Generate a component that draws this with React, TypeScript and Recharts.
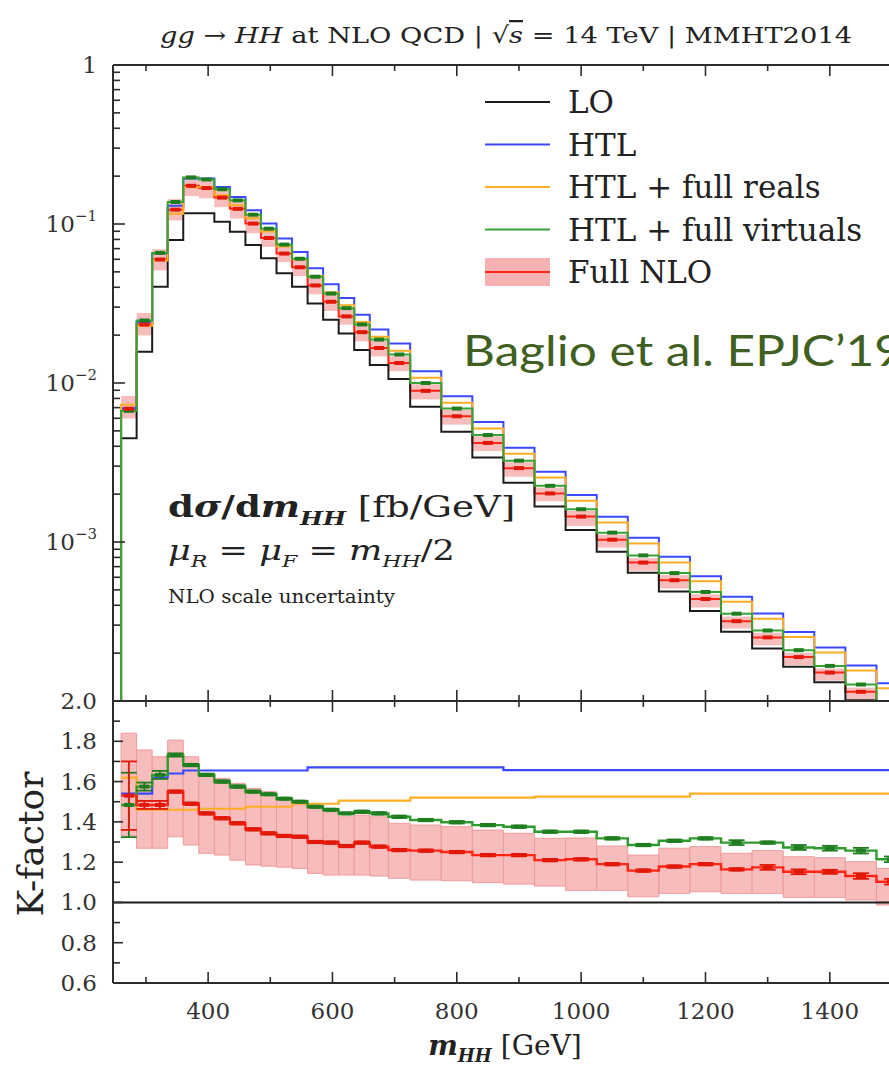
import {
  ComposedChart,
  Line,
  Scatter,
  ErrorBar,
  XAxis,
  YAxis,
  ReferenceArea,
  ReferenceLine,
} from 'recharts'

// m_HH bin edges [GeV]; 25 GeV bins at low mass, 50 GeV bins above 725
const binEdges = [
  260, 285, 310, 335, 360, 385, 410, 435, 460, 485, 510, 535, 560, 585, 610, 635, 660, 690, 725,
  775, 825, 875, 925, 975, 1025, 1075, 1125, 1175, 1225, 1275, 1325, 1375, 1425, 1475, 1525,
]

// LO dsigma/dm_HH [fb/GeV]
const sigmaLO = [
  0.0045, 0.0157, 0.0403, 0.0794, 0.1167, 0.1167, 0.1034, 0.0894, 0.0738, 0.0608, 0.049, 0.0403,
  0.0316, 0.025, 0.0205, 0.0161, 0.013, 0.0106, 0.0071, 0.00494, 0.0034, 0.00236, 0.00167, 0.00119,
  0.000869, 0.000641, 0.000488, 0.000368, 0.000273, 0.000214, 0.000164, 0.000131, 0.000101, 0.000078,
]

// K-factors (ratio to LO)
const kHTL = [
  1.54, 1.54, 1.62, 1.64, 1.655, 1.655, 1.655, 1.655, 1.655, 1.655, 1.655, 1.655, 1.67, 1.67, 1.67,
  1.67, 1.67, 1.67, 1.67, 1.67, 1.67, 1.657, 1.657, 1.657, 1.657, 1.657, 1.657, 1.657, 1.657, 1.657,
  1.657, 1.657, 1.657, 1.657,
]
const kReals = [
  1.62, 1.46, 1.46, 1.46, 1.46, 1.465, 1.465, 1.465, 1.475, 1.475, 1.475, 1.49, 1.49, 1.49, 1.505,
  1.505, 1.505, 1.505, 1.52, 1.52, 1.52, 1.52, 1.525, 1.525, 1.525, 1.525, 1.525, 1.54, 1.54, 1.54,
  1.54, 1.54, 1.54, 1.54,
]
const kVirt = [
  1.484, 1.575, 1.633, 1.732, 1.682, 1.633, 1.6, 1.575, 1.55, 1.537, 1.515, 1.5, 1.475, 1.46, 1.442,
  1.45, 1.442, 1.425, 1.409, 1.398, 1.384, 1.376, 1.351, 1.351, 1.318, 1.285, 1.306, 1.318, 1.297,
  1.297, 1.273, 1.269, 1.257, 1.214,
]
const kNLO = [
  1.53, 1.484, 1.484, 1.55, 1.49, 1.442, 1.418, 1.393, 1.363, 1.343, 1.33, 1.326, 1.3, 1.297, 1.28,
  1.297, 1.277, 1.26, 1.257, 1.25, 1.235, 1.235, 1.21, 1.214, 1.19, 1.158, 1.178, 1.19, 1.164, 1.174,
  1.152, 1.152, 1.131, 1.103,
]
// NLO scale uncertainty band
const kNLOHigh = [
  1.84, 1.757, 1.723, 1.806, 1.723, 1.641, 1.616, 1.591, 1.566, 1.55, 1.51, 1.484, 1.467, 1.45, 1.425,
  1.433, 1.425, 1.393, 1.384, 1.376, 1.359, 1.343, 1.318, 1.32, 1.28, 1.235, 1.269, 1.277, 1.244,
  1.257, 1.227, 1.222, 1.202, 1.169,
]
const kNLOLow = [
  1.33, 1.269, 1.269, 1.326, 1.285, 1.244, 1.235, 1.21, 1.186, 1.18, 1.175, 1.169, 1.144, 1.136,
  1.136, 1.136, 1.131, 1.12, 1.111, 1.108, 1.098, 1.091, 1.081, 1.06, 1.06, 1.028, 1.045, 1.053,
  1.045, 1.045, 1.025, 1.025, 1.012, 0.987,
]
// numerical (MC) errors on the K-factors
const errVirt = [
  0.16, 0.02, 0.02, 0.008, 0.006, 0.006, 0.006, 0.006, 0.005, 0.005, 0.005, 0.005, 0.005, 0.005,
  0.005, 0.006, 0.006, 0.006, 0.006, 0.006, 0.006, 0.006, 0.006, 0.006, 0.006, 0.006, 0.006, 0.006,
  0.012, 0.006, 0.012, 0.012, 0.014, 0.014,
]
const errNLO = [
  0.17, 0.02, 0.02, 0.006, 0.006, 0.006, 0.006, 0.006, 0.006, 0.006, 0.006, 0.006, 0.006, 0.006,
  0.006, 0.006, 0.006, 0.006, 0.006, 0.006, 0.006, 0.006, 0.006, 0.006, 0.006, 0.006, 0.006, 0.006,
  0.006, 0.012, 0.012, 0.01, 0.014, 0.014,
]

const xTicks = [300, 400, 500, 600, 700, 800, 900, 1000, 1100, 1200, 1300, 1400, 1500]
const logTicks = [
  1e-4, 2e-4, 3e-4, 4e-4, 5e-4, 6e-4, 7e-4, 8e-4, 9e-4, 1e-3, 2e-3, 3e-3, 4e-3, 5e-3, 6e-3, 7e-3, 8e-3,
  9e-3, 0.01, 0.02, 0.03, 0.04, 0.05, 0.06, 0.07, 0.08, 0.09, 0.1, 0.2, 0.3, 0.4, 0.5, 0.6, 0.7, 0.8,
  0.9, 1,
]
const kTicks = [0.6, 0.7, 0.8, 0.9, 1.0, 1.1, 1.2, 1.3, 1.4, 1.5, 1.6, 1.7, 1.8, 1.9, 2.0]

const legendItems = [
  { name: 'LO', color: '#1c1c1c' },
  { name: 'HTL', color: '#3a48ff' },
  { name: 'HTL + full reals', color: '#ffad22' },
  { name: 'HTL + full virtuals', color: '#36a336' },
  { name: 'Full NLO', color: '#ff2414', band: true },
]

const SERIF = '"DejaVu Serif", serif'
const FRAME = '#2d2d2d'
const C_LO = '#1c1c1c'
const C_HTL = '#3a48ff'
const C_REAL = '#ffad22'
const C_VIRT = '#36a336'
const C_VIRT_DARK = '#1f7d1f'
const C_NLO = '#ff2414'
const C_NLO_DARK = '#e01808'
const C_BAND = '#f6b2b2'
const X_DOMAIN: [number, number] = [247, 1500]

const nBins = sigmaLO.length
const stepRows = (f: (i: number) => Record<string, number>) =>
  binEdges.map((x, i) => ({ x, ...f(Math.min(i, nBins - 1)) }))

const topRows = [
  { x: X_DOMAIN[0], lo: 1e-7, htl: 1e-7, real: 1e-7, virt: 1e-7, nlo: 1e-7 },
  ...stepRows((i) => ({
    lo: sigmaLO[i],
    htl: sigmaLO[i] * kHTL[i],
    real: sigmaLO[i] * kReals[i],
    virt: sigmaLO[i] * kVirt[i],
    nlo: sigmaLO[i] * kNLO[i],
  })),
]
const kRows = stepRows((i) => ({ htl: kHTL[i], real: kReals[i], virt: kVirt[i], nlo: kNLO[i] }))

const centers = sigmaLO.map((_, i) => (binEdges[i] + binEdges[i + 1]) / 2)
const topVirtPts = centers.map((x, i) => ({ x, y: sigmaLO[i] * kVirt[i] }))
const topNloPts = centers.map((x, i) => ({ x, y: sigmaLO[i] * kNLO[i] }))
const kVirtPts = centers.map((x, i) => ({ x, y: kVirt[i], err: errVirt[i] }))
const kNloPts = centers.map((x, i) => ({ x, y: kNLO[i], err: errNLO[i] }))

const dash = (color: string, w: number, h: number) => (p: any) =>
  <rect x={p.cx - w / 2} y={p.cy - h / 2} width={w} height={h} fill={color} />

// ticks are drawn inwards, labels only on the major ones
const LeftLogTick = ({ x, y, payload }: any) => {
  const lg = Math.log10(payload.value)
  const e = Math.round(lg)
  const major = Math.abs(lg - e) < 1e-6
  return (
    <g>
      <line x1={x} x2={x + (major ? 12 : 7)} y1={y} y2={y} stroke={FRAME} strokeWidth={1.6} />
      {major && e > -4 && (
        <text x={x - 16} y={y + 8} textAnchor="end" fontFamily={SERIF} fontSize={23} fill="#333">
          {e === 0 ? '1' : '10'}
          {e !== 0 && (
            <tspan dy={-11} fontSize={15}>
              {'−' + -e}
            </tspan>
          )}
        </text>
      )}
    </g>
  )
}
const RightLogTick = ({ x, y, payload }: any) => {
  const lg = Math.log10(payload.value)
  const major = Math.abs(lg - Math.round(lg)) < 1e-6
  return <line x1={x} x2={x - (major ? 12 : 7)} y1={y} y2={y} stroke={FRAME} strokeWidth={1.6} />
}
const LeftKTick = ({ x, y, payload }: any) => {
  const v = payload.value
  const major = Math.round(v * 10) % 2 === 0
  return (
    <g>
      <line x1={x} x2={x + (major ? 10 : 7)} y1={y} y2={y} stroke={FRAME} strokeWidth={1.6} />
      {major && (
        <text x={x - 16} y={y + 8} textAnchor="end" fontFamily={SERIF} fontSize={23} fill="#333">
          {v.toFixed(1)}
        </text>
      )}
    </g>
  )
}
const RightKTick = ({ x, y, payload }: any) => {
  const major = Math.round(payload.value * 10) % 2 === 0
  return <line x1={x} x2={x - (major ? 10 : 7)} y1={y} y2={y} stroke={FRAME} strokeWidth={1.6} />
}
const BottomTick = ({ x, y, payload, labels }: any) => {
  const v = payload.value
  const major = v % 200 === 0
  return (
    <g>
      <line x1={x} x2={x} y1={y} y2={y - (major ? 11 : 6)} stroke={FRAME} strokeWidth={1.6} />
      {labels && major && v < 1500 && (
        <text x={x} y={y + 36} textAnchor="middle" fontFamily={SERIF} fontSize={23} fill="#333">
          {v}
        </text>
      )}
    </g>
  )
}
const TopTick = ({ x, y, payload }: any) => {
  const major = payload.value % 200 === 0
  return <line x1={x} x2={x} y1={y} y2={y + (major ? 11 : 6)} stroke={FRAME} strokeWidth={1.6} />
}

const axisLine = { stroke: FRAME, strokeWidth: 2 }

const frameAxes = (yTicks: number[], Right: any, bottomLabels: boolean) => [
  <XAxis
    key="xb"
    xAxisId="b"
    dataKey="x"
    type="number"
    domain={X_DOMAIN}
    allowDataOverflow
    ticks={xTicks}
    interval={0}
    height={1}
    tickSize={0}
    tickMargin={0}
    tickLine={false}
    axisLine={axisLine}
    tick={(p: any) => <BottomTick {...p} labels={bottomLabels} />}
  />,
  <XAxis
    key="xt"
    xAxisId="t"
    orientation="top"
    dataKey="x"
    type="number"
    domain={X_DOMAIN}
    allowDataOverflow
    ticks={xTicks}
    interval={0}
    height={1}
    tickSize={0}
    tickMargin={0}
    tickLine={false}
    axisLine={axisLine}
    tick={(p: any) => <TopTick {...p} />}
  />,
  <YAxis
    key="yr"
    yAxisId="r"
    orientation="right"
    width={1}
    ticks={yTicks}
    interval={0}
    tickSize={0}
    tickMargin={0}
    tickLine={false}
    axisLine={axisLine}
    tick={(p: any) => <Right {...p} />}
  />,
]

const TopPanel = () => (
  <ComposedChart
    width={900}
    height={703}
    data={topRows}
    margin={{ top: 64, right: 7, bottom: 1, left: 53 }}
  >
    {frameAxes(logTicks, RightLogTick, false)}
    <YAxis
      yAxisId="l"
      type="number"
      scale="log"
      domain={[1e-4, 1]}
      allowDataOverflow
      ticks={logTicks}
      interval={0}
      width={60}
      tickSize={0}
      tickMargin={0}
      tickLine={false}
      axisLine={axisLine}
      tick={(p: any) => <LeftLogTick {...p} />}
    />
    {sigmaLO.map((lo, i) => (
      <ReferenceArea
        key={i}
        xAxisId="b"
        yAxisId="l"
        x1={binEdges[i]}
        x2={binEdges[i + 1]}
        y1={lo * kNLOLow[i]}
        y2={lo * kNLOHigh[i]}
        fill={C_BAND}
        fillOpacity={0.85}
        stroke="none"
        ifOverflow="hidden"
      />
    ))}
    <Line xAxisId="b" yAxisId="l" type="stepAfter" dataKey="nlo" stroke={C_NLO} strokeWidth={2} dot={false} isAnimationActive={false} />
    <Line xAxisId="b" yAxisId="l" type="stepAfter" dataKey="lo" stroke={C_LO} strokeWidth={2} dot={false} isAnimationActive={false} />
    <Line xAxisId="b" yAxisId="l" type="stepAfter" dataKey="htl" stroke={C_HTL} strokeWidth={2} dot={false} isAnimationActive={false} />
    <Line xAxisId="b" yAxisId="l" type="stepAfter" dataKey="real" stroke={C_REAL} strokeWidth={2} dot={false} isAnimationActive={false} />
    <Line xAxisId="b" yAxisId="l" type="stepAfter" dataKey="virt" stroke={C_VIRT} strokeWidth={2} dot={false} isAnimationActive={false} />
    <Scatter xAxisId="b" yAxisId="l" data={topVirtPts} dataKey="y" shape={dash(C_VIRT_DARK, 10, 4)} isAnimationActive={false} />
    <Scatter xAxisId="b" yAxisId="l" data={topNloPts} dataKey="y" shape={dash(C_NLO_DARK, 10, 4)} isAnimationActive={false} />
  </ComposedChart>
)

const KPanel = () => (
  <ComposedChart
    width={900}
    height={387}
    data={kRows}
    margin={{ top: 19, right: 7, bottom: 84, left: 53 }}
  >
    {frameAxes(kTicks, RightKTick, true)}
    <YAxis
      yAxisId="l"
      type="number"
      domain={[0.6, 2.0]}
      allowDataOverflow
      ticks={kTicks}
      interval={0}
      width={60}
      tickSize={0}
      tickMargin={0}
      tickLine={false}
      axisLine={axisLine}
      tick={(p: any) => <LeftKTick {...p} />}
    />
    {kNLO.map((_, i) => (
      <ReferenceArea
        key={i}
        xAxisId="b"
        yAxisId="l"
        x1={binEdges[i]}
        x2={binEdges[i + 1]}
        y1={kNLOLow[i]}
        y2={kNLOHigh[i]}
        fill={C_BAND}
        fillOpacity={0.85}
        stroke="#ee9c9c"
        strokeWidth={1}
        ifOverflow="hidden"
      />
    ))}
    <ReferenceLine xAxisId="b" yAxisId="l" y={1} stroke={C_LO} strokeWidth={2} />
    <Line xAxisId="b" yAxisId="l" type="stepAfter" dataKey="htl" stroke={C_HTL} strokeWidth={2.2} dot={false} isAnimationActive={false} />
    <Line xAxisId="b" yAxisId="l" type="stepAfter" dataKey="real" stroke={C_REAL} strokeWidth={2.2} dot={false} isAnimationActive={false} />
    <Line xAxisId="b" yAxisId="l" type="stepAfter" dataKey="virt" stroke="#2f9a2f" strokeWidth={2.4} dot={false} isAnimationActive={false} />
    <Line xAxisId="b" yAxisId="l" type="stepAfter" dataKey="nlo" stroke={C_NLO} strokeWidth={2.4} dot={false} isAnimationActive={false} />
    <Scatter xAxisId="b" yAxisId="l" data={kVirtPts} dataKey="y" shape={dash(C_VIRT_DARK, 10, 4)} isAnimationActive={false}>
      <ErrorBar dataKey="err" direction="y" width={8} stroke={C_VIRT_DARK} strokeWidth={1.8} />
    </Scatter>
    <Scatter xAxisId="b" yAxisId="l" data={kNloPts} dataKey="y" shape={dash(C_NLO_DARK, 10, 4)} isAnimationActive={false}>
      <ErrorBar dataKey="err" direction="y" width={8} stroke={C_NLO_DARK} strokeWidth={1.8} />
    </Scatter>
  </ComposedChart>
)

const Overlay = () => (
  <svg width={889} height={1068} style={{ position: 'absolute', left: 0, top: 0, pointerEvents: 'none' }}>
    <text
      x={160}
      y={43}
      fontFamily={SERIF}
      fontSize={23}
      fill="#222"
      textLength={692}
      lengthAdjust="spacingAndGlyphs"
    >
      <tspan fontStyle="italic">gg</tspan> → <tspan fontStyle="italic">HH</tspan> at NLO QCD | √
      <tspan fontStyle="italic" textDecoration="overline">s</tspan> = 14 TeV | MMHT2014
    </text>
    {legendItems.map((it, i) => {
      const y = 102 + i * 42.5
      return (
        <g key={it.name}>
          {it.band && <rect x={485} y={y - 14} width={65} height={28} fill={C_BAND} />}
          <line x1={485} x2={550} y1={y} y2={y} stroke={it.color} strokeWidth={2} />
          <text x={568} y={y + 11} fontFamily={SERIF} fontSize={31} fill="#222">
            {it.name}
          </text>
        </g>
      )
    })}
    <text
      x={463}
      y={366}
      fontFamily="Lato, sans-serif"
      fontSize={42}
      fill="#3f6020"
      textLength={440}
      lengthAdjust="spacingAndGlyphs"
    >
      Baglio et al. EPJC’19
    </text>
    <g transform="translate(168 517) scale(1.28 1)">
      <text x={0} y={0} fontFamily={SERIF} fontSize={29} fill="#222">
        <tspan fontWeight="bold">d</tspan>
        <tspan fontWeight="bold" fontStyle="italic">σ</tspan>
        <tspan fontWeight="bold">/d</tspan>
        <tspan fontWeight="bold" fontStyle="italic">m</tspan>
        <tspan fontWeight="bold" fontStyle="italic" fontSize={19} dy={8}>HH</tspan>
        <tspan dy={-8}> [fb/GeV]</tspan>
      </text>
    </g>
    <g transform="translate(168 560) scale(1.3 1)">
      <text x={0} y={0} fontFamily={SERIF} fontSize={27} fill="#222">
        <tspan fontStyle="italic">μ</tspan>
        <tspan fontStyle="italic" fontSize={17} dy={7}>R</tspan>
        <tspan dy={-7}> = </tspan>
        <tspan fontStyle="italic">μ</tspan>
        <tspan fontStyle="italic" fontSize={17} dy={7}>F</tspan>
        <tspan dy={-7}> = </tspan>
        <tspan fontStyle="italic">m</tspan>
        <tspan fontStyle="italic" fontSize={17} dy={7}>HH</tspan>
        <tspan dy={-7}>/2</tspan>
      </text>
    </g>
    <text x={168} y={603} fontFamily={SERIF} fontSize={18} fill="#222" textLength={227} lengthAdjust="spacingAndGlyphs">
      NLO scale uncertainty
    </text>
    <text x={43} y={844} transform="rotate(-90 43 844)" textAnchor="middle" fontFamily={SERIF} fontSize={36} fill="#222">
      K-factor
    </text>
    <text x={505} y={1055} textAnchor="middle" fontFamily={SERIF} fontSize={28} fill="#222">
      <tspan fontStyle="italic" fontWeight="bold">m</tspan>
      <tspan fontStyle="italic" fontWeight="bold" fontSize={18} dy={7}>HH</tspan>
      <tspan dy={-7}> [GeV]</tspan>
    </text>
  </svg>
)

export default function App() {
  return (
    <div style={{ position: 'absolute', left: 0, top: 0, width: 889, height: 1068, overflow: 'hidden', background: '#fff' }}>
      <div style={{ position: 'absolute', left: 0, top: 0 }}>
        <TopPanel />
      </div>
      <div style={{ position: 'absolute', left: 0, top: 681 }}>
        <KPanel />
      </div>
      <Overlay />
    </div>
  )
}
